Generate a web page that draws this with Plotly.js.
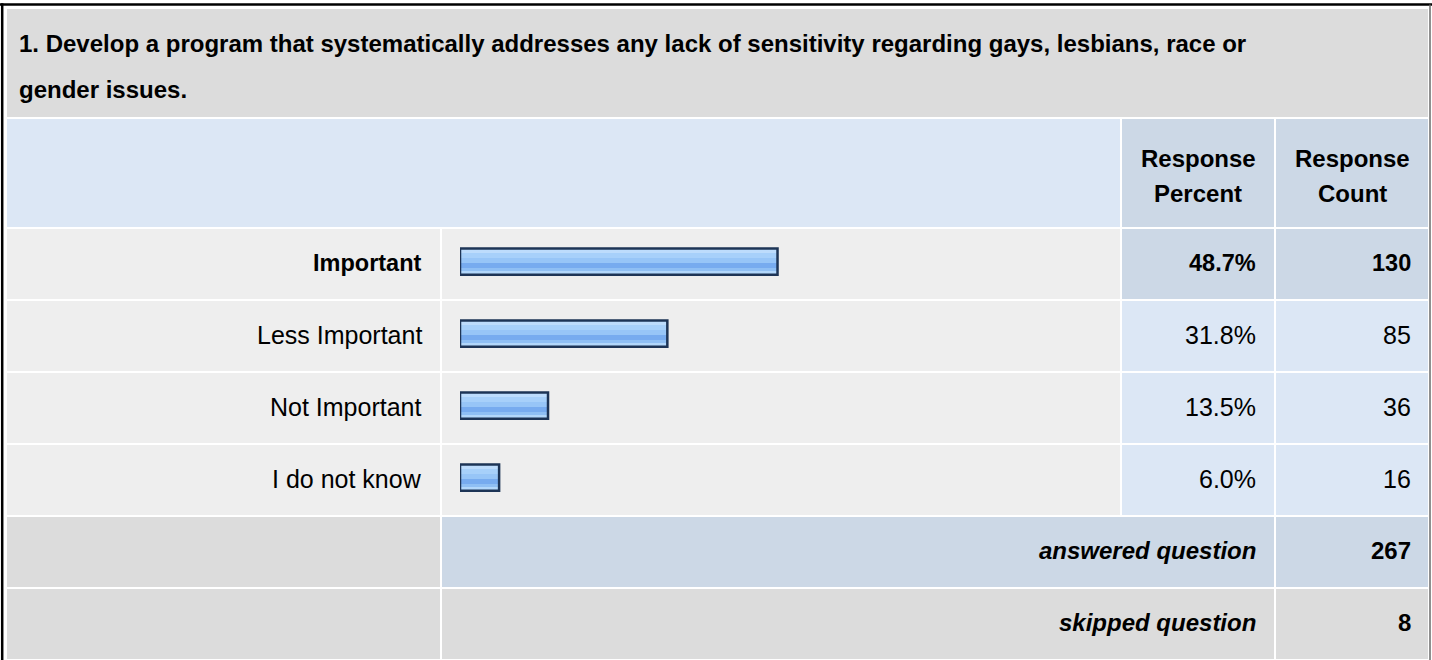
<!DOCTYPE html>
<html>
<head>
<meta charset="utf-8">
<script src="https://cdn.plot.ly/plotly-3.0.1.min.js"></script>
<style>
  html, body { margin: 0; padding: 0; background: #ffffff; }
  #chart { width: 1432px; height: 660px; }
</style>
</head>
<body>
<div id="chart"></div>
<script>
// ---------------- DATA ----------------
const titleLines = [
  "1. Develop a program that systematically addresses any lack of sensitivity regarding gays, lesbians, race or",
  "gender issues."
];
const headerPercent = ["Response", "Percent"];
const headerCount = ["Response", "Count"];
const categories = ["Important", "Less Important", "Not Important", "I do not know"];
const percents = [48.7, 31.8, 13.5, 6.0];
const counts = [130, 85, 36, 16];
const summaryLabels = ["answered question", "skipped question"];
const summaryValues = [267, 8];

// ---------------- LAYOUT HELPERS ----------------
const W = 1432, H = 660;
const X = px => px / W;
const Y = py => 1 - py / H;
const FONT = "Arial, 'Liberation Sans', Helvetica, sans-serif";
const FS_B = 24;   // bold text
const FS_R = 25;   // regular text

const rows = categories.concat(summaryLabels);
const ROW_TOP0 = 229, ROW_PITCH = 72, ROW_H = 70;

const C_TITLE = "#dcdcdc";
const C_HEAD = "#dce7f5";
const C_HEAD_DARK = "#ccd8e6";
const C_ROW = "#eeeeee";
const C_SUM = "#dcdcdc";

const shapes = [];
function rect(x0, y0, x1, y1, color) {
  shapes.push({type: "rect", xref: "paper", yref: "paper", layer: "below",
    x0: X(x0), x1: X(x1), y0: Y(y1), y1: Y(y0),
    fillcolor: color, line: {width: 0}});
}
// title cell
rect(7, 9, 1428, 117, C_TITLE);
// column header row
rect(7, 119, 1120, 227, C_HEAD);
rect(1122, 119, 1274, 227, C_HEAD_DARK);
rect(1276, 119, 1428, 227, C_HEAD_DARK);

const maxIdx = percents.indexOf(Math.max(...percents));
categories.forEach((c, i) => {
  const t = ROW_TOP0 + ROW_PITCH * i, b = t + ROW_H;
  rect(7, t, 440, b, C_ROW);
  rect(442, t, 1120, b, C_ROW);
  const cc = i === maxIdx ? C_HEAD_DARK : C_HEAD;
  rect(1122, t, 1274, b, cc);
  rect(1276, t, 1428, b, cc);
});
summaryLabels.forEach((s, j) => {
  const i = categories.length + j;
  const t = ROW_TOP0 + ROW_PITCH * i, b = t + ROW_H;
  const cc = j === 0 ? C_HEAD_DARK : C_SUM;
  rect(7, t, 440, b, C_SUM);
  rect(442, t, 1274, b, cc);
  rect(1276, t, 1428, b, cc);
});
// outer frame
shapes.push({type: "line", xref: "paper", yref: "paper", layer: "above",
  x0: X(0), x1: X(1432), y0: Y(4.5), y1: Y(4.5), line: {color: "#000000", width: 2.5}});
shapes.push({type: "line", xref: "paper", yref: "paper", layer: "above",
  x0: X(2.2), x1: X(2.2), y0: Y(3.3), y1: Y(660), line: {color: "#000000", width: 2.5}});
shapes.push({type: "line", xref: "paper", yref: "paper", layer: "above",
  x0: X(1430), x1: X(1430), y0: Y(4.5), y1: Y(660), line: {color: "#6a6a6a", width: 1.5}});

// ---------------- ANNOTATIONS ----------------
const ann = [];
function txt(text, x, y, xanchor, size, opts) {
  ann.push(Object.assign({text: text, x: x, y: y, xref: "paper", yref: "paper",
    xanchor: xanchor, yanchor: "middle", showarrow: false,
    font: {family: FONT, size: size, color: "#000000"}}, opts || {}));
}
txt("<b>" + titleLines[0] + "</b>", X(17), Y(43), "left", FS_B);
txt("<b>" + titleLines[1] + "</b>", X(17), Y(89), "left", FS_B);
txt("<b>" + headerPercent[0] + "</b>", X(1198), Y(158), "center", FS_B);
txt("<b>" + headerPercent[1] + "</b>", X(1198), Y(193), "center", FS_B);
txt("<b>" + headerCount[0] + "</b>", X(1352), Y(158), "center", FS_B);
txt("<b>" + headerCount[1] + "</b>", X(1352), Y(193), "center", FS_B);

categories.forEach((c, i) => {
  const b = i === maxIdx;
  const w = s => b ? "<b>" + s + "</b>" : s;
  const fs = b ? 23.5 : FS_R;
  txt(w(c), X(424), c, "right", fs, {yref: "y", yshift: 1.5});
  txt(w(percents[i].toFixed(1) + "%"), X(1258), c, "right", fs, {yref: "y", yshift: 1.5});
  txt(w(String(counts[i])), X(1413), c, "right", fs, {yref: "y", yshift: 1.5});
});
summaryLabels.forEach((s, j) => {
  txt("<b><i>" + s + "</i></b>", X(1258), s, "right", FS_B, {yref: "y", yshift: 1.5});
  txt("<b>" + summaryValues[j] + "</b>", X(1413), s, "right", FS_B, {yref: "y", yshift: 1.5});
});

// ---------------- BARS (glossy gradient via overlaid bands) ----------------
const U = 1 / ROW_PITCH;  // axis units per pixel
const bands = [
  [-15.45, -11, "#bddcfc"],
  [-11, -6, "#a7d0fa"],
  [-6, -1, "#97c5f7"],
  [-1, 4, "#77abef"],
  [4, 7, "#8fbff4"],
  [7, 10.75, "#b2d7fb"]
];
const traces = bands.map(b => ({
  type: "bar", orientation: "h", x: percents, y: categories,
  offset: b[0] * U, width: (b[1] - b[0]) * U,
  marker: {color: b[2], line: {width: 0}},
  hoverinfo: "skip", showlegend: false
}));
traces.push({
  type: "bar", orientation: "h", x: percents, y: categories,
  offset: -15.45 * U, width: 26.2 * U,
  marker: {color: "rgba(0,0,0,0)", line: {width: 2.5, color: "#1d3456"}},
  hoverinfo: "skip", showlegend: false
});

const layout = {
  width: W, height: H,
  margin: {l: 0, r: 0, t: 0, b: 0, pad: 0},
  paper_bgcolor: "#ffffff",
  plot_bgcolor: "rgba(0,0,0,0)",
  barmode: "overlay",
  showlegend: false,
  xaxis: {domain: [X(460), X(1112)], range: [0, 100], showgrid: false, zeroline: false,
    showticklabels: false, showline: false, ticks: "", fixedrange: true},
  yaxis: {domain: [0, Y(228)], type: "category", categoryorder: "array", categoryarray: rows,
    range: [rows.length - 0.5, -0.5], showgrid: false, zeroline: false,
    showticklabels: false, showline: false, ticks: "", fixedrange: true},
  shapes: shapes,
  annotations: ann
};

Plotly.newPlot("chart", traces, layout, {displayModeBar: false, staticPlot: true});
</script>
</body>
</html>
